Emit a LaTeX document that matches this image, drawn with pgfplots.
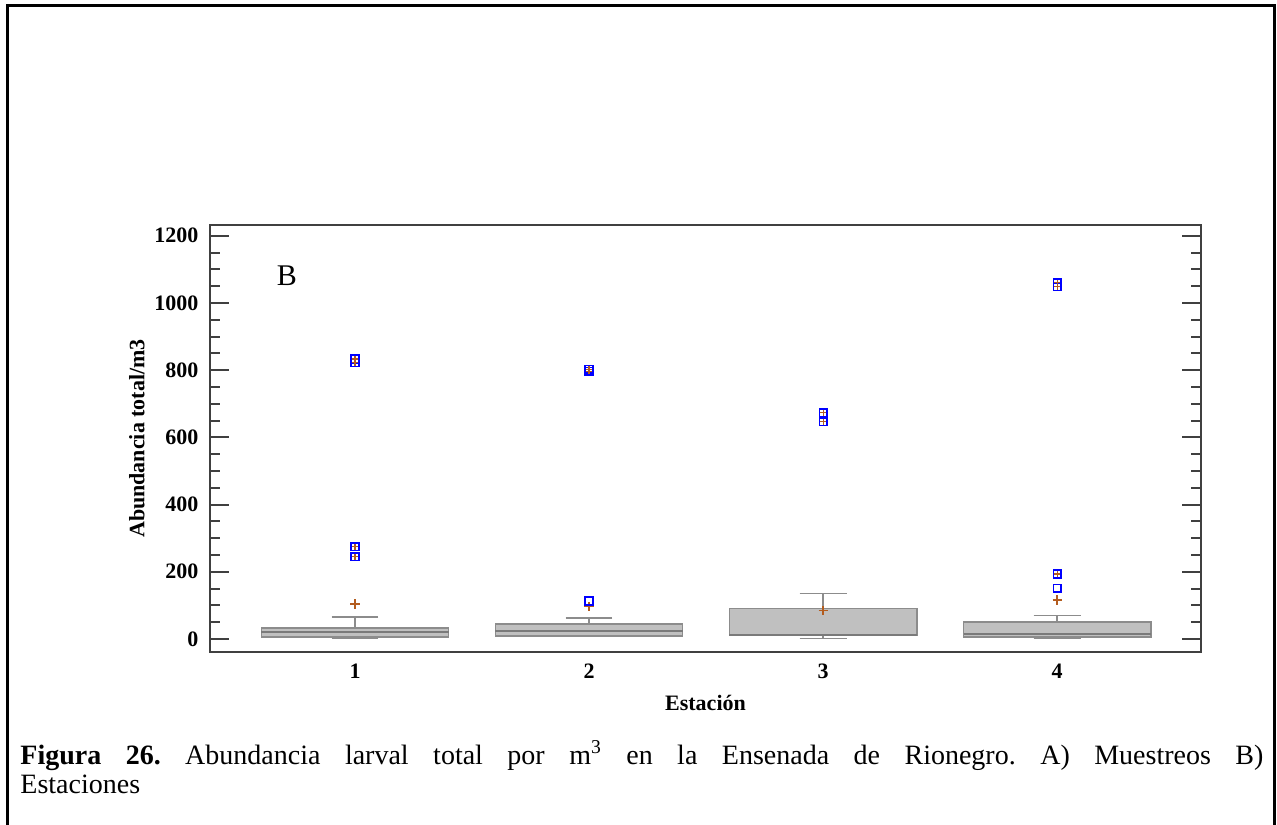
\documentclass[border=0pt]{standalone}
\usepackage{fontspec}
\setmainfont{Liberation Serif}
\usepackage{pgfplots}
\pgfplotsset{compat=1.18}
\usepgfplotslibrary{statistics}

\definecolor{framec}{HTML}{404040}
\definecolor{boxfill}{HTML}{C0C0C0}
\definecolor{boxedge}{HTML}{8C8C8C}
\definecolor{medc}{HTML}{7A7A7A}
\definecolor{meanc}{HTML}{B35C1E}
\definecolor{outc}{HTML}{0000FF}

\begin{document}
\begin{tikzpicture}
\useasboundingbox (0pt,0pt) rectangle (638.5pt,412pt);
\draw[line width=1.3pt] (3.8pt,-2pt) -- (3.8pt,409.2pt) -- (637.2pt,409.2pt) -- (637.2pt,-2pt);
\begin{axis}[
  at={(105pt,86pt)}, anchor=south west,
  scale only axis, width=495.5pt, height=213.5pt,
  xmin=0.38, xmax=4.615, ymin=-39, ymax=1232,
  xtick={1,2,3,4},
  ytick={0,200,...,1200},
  minor y tick num=3,
  tick align=inside,
  ytick pos=both, yticklabel pos=left,
  xtick style={draw=none},
  major tick length=9.5pt, minor tick length=5pt,
  tick style={draw=framec, line width=1pt},
  axis line style={draw=framec, line width=1pt},
  /pgf/number format/assume math mode=true,
  /pgf/number format/1000 sep={},
  ticklabel style={font=\bfseries\fontsize{11}{13}\selectfont},
  xticklabel style={yshift=-2.5pt},
  yticklabel style={xshift=-2.3pt},
  xlabel={Estación}, ylabel={Abundancia total/m3},
  label style={font=\bfseries\fontsize{11}{13}\selectfont},
  xlabel style={at={(axis description cs:0.5,-0.1194)}, anchor=center},
  ylabel style={at={(axis description cs:-0.0737,0.5)}, anchor=center},
  boxplot/draw direction=y,
  boxplot/every median/.style={draw=medc, line width=1pt},
]
\addplot+[boxplot prepared={draw position=1, lower whisker=2, lower quartile=5, median=21, upper quartile=32, upper whisker=65, box extend=0.8, whisker extend=0.2}, draw=boxedge, fill=boxfill, line width=0.8pt, mark=none, solid] coordinates {};
\addplot+[boxplot prepared={draw position=2, lower whisker=7, lower quartile=9, median=24, upper quartile=45, upper whisker=62, box extend=0.8, whisker extend=0.2}, draw=boxedge, fill=boxfill, line width=0.8pt, mark=none, solid] coordinates {};
\addplot+[boxplot prepared={draw position=3, lower whisker=1, lower quartile=10, median=13, upper quartile=91, upper whisker=135, box extend=0.8, whisker extend=0.2}, draw=boxedge, fill=boxfill, line width=0.8pt, mark=none, solid] coordinates {};
\addplot+[boxplot prepared={draw position=4, lower whisker=1, lower quartile=5, median=14, upper quartile=50, upper whisker=70, box extend=0.8, whisker extend=0.2}, draw=boxedge, fill=boxfill, line width=0.8pt, mark=none, solid] coordinates {};
% means
\addplot[only marks, mark=+, mark size=2.3pt, color=meanc, line width=0.8pt] coordinates {(1,104) (2,96) (3,84) (4,116)};
% outliers (squares)
\addplot[only marks, mark=square, mark size=1.9pt, color=outc, line width=0.8pt] coordinates {(1,245) (1,275) (1,822) (1,833) (2,113) (2,797) (2,802) (3,647) (3,673) (4,151) (4,193) (4,1048) (4,1060)};
% far outliers (plus inside square)
\addplot[only marks, mark=+, mark size=1.5pt, color=meanc, line width=0.6pt] coordinates {(1,245) (1,275) (1,822) (1,833) (2,797) (2,802) (3,647) (3,673) (4,193) (4,1048) (4,1060)};
\node[font=\fontsize{15}{17}\selectfont] at (axis description cs:0.0777,0.8806) {B};
\end{axis}
\node[anchor=base west, inner sep=0pt] at (10pt,30pt) {\parbox[t]{621.5pt}{\frenchspacing\fontsize{14}{14.5}\selectfont \textbf{Figura 26.} Abundancia larval total por m\textsuperscript{3} en la Ensenada de Rionegro. A) Muestreos B)\linebreak Estaciones}};
\end{tikzpicture}
\end{document}
